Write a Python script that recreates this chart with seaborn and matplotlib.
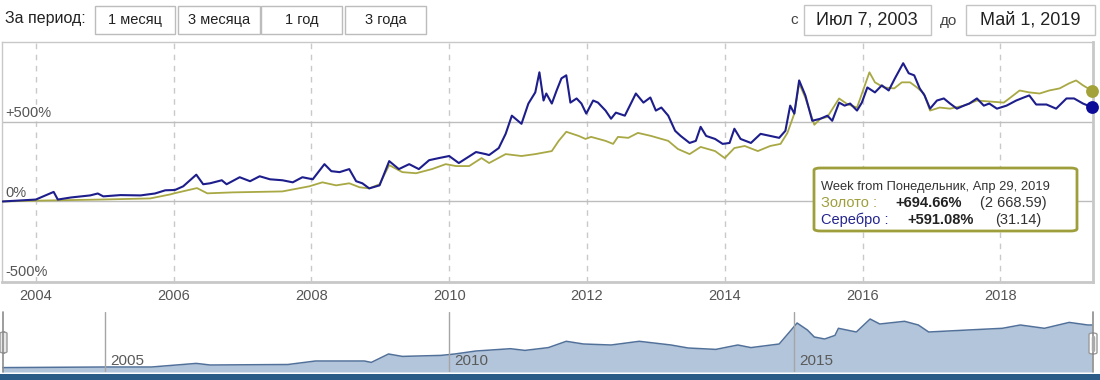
import numpy as np
import pandas as pd
import matplotlib
matplotlib.use("Agg")
import matplotlib.pyplot as plt
from matplotlib.patches import Rectangle, FancyBboxPatch
import seaborn as sns

# ---------------- data ----------------
silver_years = [2003.52, 2004.00, 2004.26, 2004.32, 2004.51, 2004.79, 2004.90, 2004.98, 2005.23, 2005.52,
                2005.73, 2005.88, 2006.02, 2006.14, 2006.33, 2006.43, 2006.53, 2006.70, 2006.77, 2006.96,
                2007.11, 2007.25, 2007.40, 2007.58, 2007.73, 2007.87, 2008.02, 2008.19, 2008.29, 2008.41,
                2008.55, 2008.65, 2008.74, 2008.84, 2008.99, 2009.13, 2009.27, 2009.42, 2009.56, 2009.71,
                2009.85, 2010.00, 2010.14, 2010.39, 2010.53, 2010.58, 2010.72, 2010.82, 2010.91, 2011.05,
                2011.15, 2011.25, 2011.31, 2011.37, 2011.41, 2011.49, 2011.56, 2011.63, 2011.70, 2011.76,
                2011.85, 2011.92, 2011.99, 2012.09, 2012.16, 2012.27, 2012.35, 2012.42, 2012.55, 2012.71,
                2012.82, 2012.92, 2013.00, 2013.08, 2013.18, 2013.28, 2013.36, 2013.49, 2013.58, 2013.65,
                2013.73, 2013.86, 2013.97, 2014.07, 2014.14, 2014.23, 2014.38, 2014.52, 2014.66, 2014.79,
                2014.88, 2014.95, 2015.01, 2015.08, 2015.17, 2015.27, 2015.39, 2015.49, 2015.56, 2015.66,
                2015.74, 2015.82, 2015.92, 2015.99, 2016.07, 2016.18, 2016.28, 2016.38, 2016.47, 2016.59,
                2016.67, 2016.75, 2016.83, 2016.90, 2016.98, 2017.08, 2017.18, 2017.27, 2017.37, 2017.47,
                2017.55, 2017.66, 2017.76, 2017.84, 2017.95, 2018.09, 2018.23, 2018.34, 2018.42, 2018.52,
                2018.67, 2018.81, 2018.96, 2019.07, 2019.20, 2019.33]
silver_pct = [0, 12, 60, 12, 25, 38, 50, 32, 40, 38,
              50, 70, 72, 95, 168, 108, 114, 133, 108, 152,
              127, 158, 139, 133, 120, 152, 139, 234, 190, 184,
              203, 127, 114, 82, 101, 253, 203, 234, 203, 259,
              272, 285, 241, 310, 297, 291, 335, 424, 538, 487,
              614, 684, 810, 633, 677, 614, 696, 772, 791, 620,
              646, 614, 551, 633, 620, 570, 519, 557, 538, 677,
              620, 652, 570, 589, 538, 443, 411, 367, 380, 468,
              411, 392, 361, 367, 456, 392, 367, 424, 411, 399,
              443, 601, 551, 759, 665, 506, 519, 538, 506, 620,
              601, 614, 570, 620, 715, 684, 728, 696, 772, 867,
              804, 791, 709, 665, 582, 633, 646, 614, 582, 601,
              614, 646, 601, 614, 582, 601, 633, 652, 665, 608,
              608, 582, 646, 646, 614, 591.08]

gold_years = [2003.52, 2004.00, 2004.94, 2005.66, 2005.95, 2006.02, 2006.34, 2006.49, 2006.86, 2007.58,
              2007.97, 2008.16, 2008.36, 2008.55, 2008.70, 2008.84, 2008.99, 2009.13, 2009.32, 2009.52,
              2009.75, 2009.95, 2010.10, 2010.29, 2010.47, 2010.58, 2010.82, 2011.05, 2011.25, 2011.49,
              2011.59, 2011.70, 2011.88, 2011.98, 2012.06, 2012.27, 2012.38, 2012.45, 2012.60, 2012.74,
              2012.93, 2013.18, 2013.32, 2013.49, 2013.65, 2013.86, 2014.00, 2014.14, 2014.29, 2014.48,
              2014.66, 2014.81, 2014.91, 2015.01, 2015.08, 2015.17, 2015.30, 2015.39, 2015.49, 2015.66,
              2015.78, 2015.92, 2016.10, 2016.18, 2016.31, 2016.46, 2016.57, 2016.69, 2016.79, 2016.89,
              2016.98, 2017.12, 2017.27, 2017.47, 2017.66, 2017.84, 2018.05, 2018.13, 2018.28, 2018.42,
              2018.57, 2018.71, 2018.86, 2019.00, 2019.10, 2019.20, 2019.33]
gold_pct = [0, 5, 12, 19, 44, 52, 84, 51, 57, 63,
            95, 120, 101, 114, 89, 82, 108, 228, 184, 177,
            203, 234, 222, 222, 272, 241, 297, 285, 297, 316,
            380, 437, 411, 392, 405, 380, 361, 405, 399, 430,
            411, 380, 329, 297, 342, 316, 272, 335, 348, 316,
            348, 361, 430, 551, 740, 650, 481, 519, 530, 646,
            610, 589, 810, 747, 715, 709, 747, 747, 715, 677,
            570, 589, 582, 601, 633, 627, 620, 646, 696, 684,
            677, 696, 709, 741, 759, 728, 694.66]

nav_years = [2003.52, 2005.01, 2005.68, 2006.33, 2006.53, 2007.66, 2008.06, 2008.77, 2008.87, 2009.12,
             2009.32, 2009.88, 2010.08, 2010.39, 2010.89, 2011.10, 2011.44, 2011.70, 2011.95, 2012.35,
             2012.76, 2013.22, 2013.47, 2013.87, 2014.19, 2014.38, 2014.79, 2014.94, 2015.05, 2015.20,
             2015.30, 2015.45, 2015.60, 2015.65, 2015.91, 2016.11, 2016.25, 2016.61, 2016.81, 2016.96,
             2017.53, 2018.03, 2018.29, 2018.64, 2019.00, 2019.27, 2019.33]
nav_vals = [4.4, 5, 5, 8.6, 7, 7.5, 11, 11, 9.6, 18,
            15.6, 16.6, 18, 21, 23.3, 21.6, 24.4, 30.7, 28, 27,
            30.7, 27, 24, 22.6, 27, 24.4, 28, 40, 49, 42,
            35, 33, 36.6, 43.7, 40, 53, 48, 50.7, 47, 40,
            42, 43.7, 47, 43.7, 49.6, 47, 47]

x_ticks = [2004, 2006, 2008, 2010, 2012, 2014, 2016, 2018]
x_tick_labels = ["2004", "2006", "2008", "2010", "2012", "2014", "2016", "2018"]
y_ticks = [-500, 0, 500]
y_tick_labels = ["-500%", "0%", "+500%"]
nav_marks = [2005, 2010, 2015]
nav_mark_labels = ["2005", "2010", "2015"]
period_buttons = ["1 месяц", "3 месяца", "1 год", "3 года"]
date_from = "Июл 7, 2003"
date_to = "Май 1, 2019"
tooltip_title = "Week from Понедельник, Апр 29, 2019"
gold_name, gold_change, gold_price = "Золото :", "+694.66%", "(2 668.59)"
silver_name, silver_change, silver_price = "Серебро :", "+591.08%", "(31.14)"

# ---------------- style ----------------
sns.set_theme(style="white")
plt.rcParams["font.family"] = ["Liberation Sans", "DejaVu Sans"]

SILVER = "#1d1d8c"
GOLD = "#a8a844"
GOLD_DOT = "#a3a23a"
SILVER_DOT = "#0c0c98"
GRID = "#bdbdbd"
TXT = "#555555"

W, H = 1100, 380
def fx(px): return px / W
def fy(py): return 1 - py / H

fig = plt.figure(figsize=(11, 3.8), dpi=100)
fig.patch.set_facecolor("white")

# ---------------- main chart ----------------
ax = fig.add_axes([fx(2), fy(282), fx(1093) - fx(2), fy(42) - fy(282)])
df_g = pd.DataFrame({"year": gold_years, "pct": gold_pct})
df_s = pd.DataFrame({"year": silver_years, "pct": silver_pct})
sns.lineplot(data=df_g, x="year", y="pct", ax=ax, color=GOLD, lw=1.3, estimator=None, zorder=3)
sns.lineplot(data=df_s, x="year", y="pct", ax=ax, color=SILVER, lw=1.5, estimator=None, zorder=4)
ax.scatter([gold_years[-1]], [gold_pct[-1]], s=85, color=GOLD_DOT, zorder=6, clip_on=False, linewidths=0)
ax.scatter([silver_years[-1]], [silver_pct[-1]], s=85, color=SILVER_DOT, zorder=6, clip_on=False, linewidths=0)

ax.set_xlim(2003.51, 2019.345)
ax.set_ylim(-505, 1000)
ax.set_xlabel("")
ax.set_ylabel("")
ax.set_xticks(x_ticks)
ax.set_xticklabels(x_tick_labels)
ax.set_yticks([])
ax.tick_params(axis="x", length=0, pad=5, labelsize=10.5, labelcolor=TXT)
for xt in x_ticks:
    ax.axvline(xt, color="#c9c9c9", lw=1, ls=(0, (4, 4)), zorder=1)
for yv, lab in zip(y_ticks, y_tick_labels):
    if yv != y_ticks[0]:
        ax.axhline(yv, color=GRID, lw=1, zorder=1)
    ax.text(0.003, yv + 12, lab, transform=ax.get_yaxis_transform(), ha="left", va="bottom",
            fontsize=10.5, color=TXT, zorder=2)
for side, sp in ax.spines.items():
    sp.set_color("#c8c8c8")
    sp.set_linewidth(1)
ax.spines["right"].set_linewidth(2)
ax.spines["bottom"].set_linewidth(2)

# ---------------- navigator ----------------
ax2 = fig.add_axes([fx(2), fy(372), fx(1093) - fx(2), fy(312) - fy(372)])
df_n = pd.DataFrame({"year": nav_years, "v": nav_vals})
ax2.fill_between(nav_years, nav_vals, 0, color="#b3c5da", lw=0)
sns.lineplot(data=df_n, x="year", y="v", ax=ax2, color="#52719a", lw=1.1, estimator=None)
ax2.set_xlim(2003.51, 2019.345)
ax2.set_ylim(0, 60)
ax2.set_xticks([]); ax2.set_yticks([])
ax2.set_xlabel(""); ax2.set_ylabel("")
for sp in ax2.spines.values():
    sp.set_visible(False)
for xm, lab in zip(nav_marks, nav_mark_labels):
    ax2.axvline(xm, color="#a5a5a5", lw=1)
    ax2.text(xm + 0.08, 11, lab, fontsize=11, color="#5a5a5a", va="center", ha="left")

# navigator handles
for px in (3, 1093):
    fig.add_artist(plt.Line2D([fx(px), fx(px)], [fy(312), fy(372)], color="#8c8c8c", lw=1.2))
fig.add_artist(FancyBboxPatch((fx(0), fy(353)), fx(7), fy(332) - fy(353),
                              boxstyle="round,pad=0,rounding_size=0.004", fc="#e8e8e8", ec="#9a9a9a", lw=1))
fig.add_artist(FancyBboxPatch((fx(1089), fy(354)), fx(8), fy(333) - fy(354),
                              boxstyle="round,pad=0,rounding_size=0.004", fc="white", ec="#9a9a9a", lw=1))
fig.add_artist(plt.Line2D([fx(1093), fx(1093)], [fy(337), fy(350)], color="#aaaaaa", lw=2.5))
# bottom dark bar
fig.add_artist(Rectangle((0, 0), 1, fy(374), color="#2b5b87", lw=0))

# ---------------- top controls ----------------
fig.text(fx(5), fy(19), "За период:", fontsize=11.5, color="#222222", va="center", ha="left")
btn_x = [(95, 175), (178, 260), (261, 342), (345, 426)]
for (x0, x1), lab in zip(btn_x, period_buttons):
    fig.add_artist(Rectangle((fx(x0), fy(34)), fx(x1 - x0), fy(6) - fy(34), fc="white", ec="#bcbcbc", lw=1))
    fig.text(fx((x0 + x1) / 2), fy(20), lab, fontsize=10.5, color="#222222", va="center", ha="center")
fig.text(fx(790), fy(20), "с", fontsize=11, color="#444444", va="center", ha="left")
fig.add_artist(Rectangle((fx(804), fy(35)), fx(127), fy(5) - fy(35), fc="white", ec="#c4c4c4", lw=1))
fig.text(fx(867), fy(20), date_from, fontsize=13, color="#222222", va="center", ha="center")
fig.text(fx(940), fy(21), "до", fontsize=11, color="#444444", va="center", ha="left")
fig.add_artist(Rectangle((fx(966), fy(35)), fx(129), fy(5) - fy(35), fc="white", ec="#c4c4c4", lw=1))
fig.text(fx(1030), fy(20), date_to, fontsize=13, color="#222222", va="center", ha="center")

# ---------------- tooltip ----------------
fig.add_artist(FancyBboxPatch((fx(814), fy(231)), fx(263), fy(168) - fy(231),
                              boxstyle="round,pad=0,rounding_size=0.006", fc="white", ec="#9e9e3c", lw=2,
                              zorder=10))
fig.text(fx(821), fy(187), tooltip_title, fontsize=9.3, color="#333333", va="center", ha="left", zorder=11)
fig.text(fx(821), fy(203), gold_name, fontsize=10.5, color="#9e9e3c", va="center", ha="left", zorder=11)
fig.text(fx(895), fy(203), gold_change, fontsize=10.5, color="#222222", weight="bold", va="center", ha="left", zorder=11)
fig.text(fx(980), fy(203), gold_price, fontsize=10.5, color="#333333", va="center", ha="left", zorder=11)
fig.text(fx(821), fy(220), silver_name, fontsize=10.5, color="#23238f", va="center", ha="left", zorder=11)
fig.text(fx(907), fy(220), silver_change, fontsize=10.5, color="#222222", weight="bold", va="center", ha="left", zorder=11)
fig.text(fx(995), fy(220), silver_price, fontsize=10.5, color="#333333", va="center", ha="left", zorder=11)

fig.savefig("out.png", dpi=100, facecolor="white")
